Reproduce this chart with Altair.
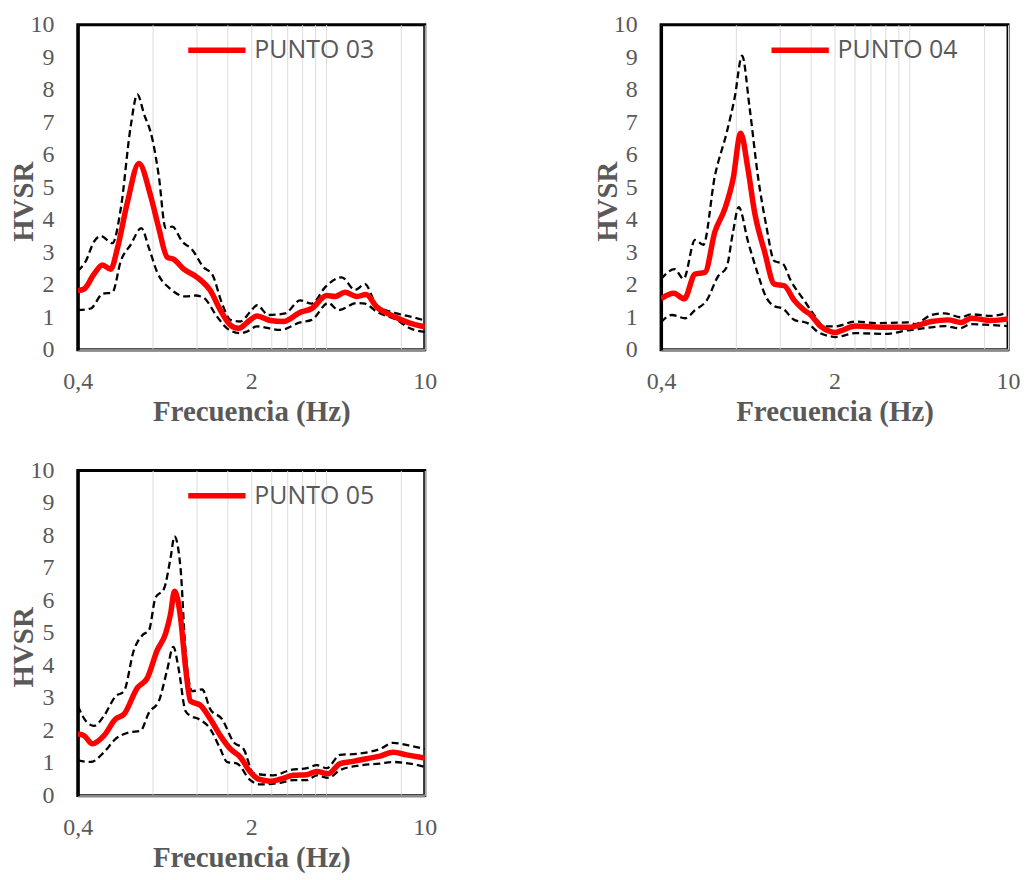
import altair as alt
import pandas as pd

# ---------------- data (frequency in Hz, HVSR amplitude) ----------------
P03_MEAN_F = [0.40, 0.424, 0.465, 0.503, 0.543, 0.578, 0.634, 0.705, 0.786, 0.848, 0.917, 0.975, 1.069, 1.21, 1.368, 1.501, 1.647, 1.778, 1.982, 2.108, 2.385, 2.697, 3.147, 3.506, 4.029, 4.349, 4.772, 5.318, 5.795, 6.397, 7.459, 8.707, 10.0]
P03_MEAN_V = [1.82, 1.87, 2.33, 2.61, 2.48, 3.13, 4.54, 5.73, 4.74, 3.74, 2.85, 2.78, 2.48, 2.23, 1.82, 1.22, 0.76, 0.66, 0.92, 1.04, 0.90, 0.87, 1.15, 1.27, 1.67, 1.64, 1.77, 1.64, 1.70, 1.32, 1.04, 0.82, 0.71]
P03_SUP_F = [0.40, 0.431, 0.465, 0.495, 0.552, 0.596, 0.653, 0.695, 0.739, 0.798, 0.848, 0.903, 0.961, 1.054, 1.156, 1.287, 1.390, 1.525, 1.647, 1.806, 1.982, 2.108, 2.348, 2.740, 3.147, 3.506, 3.965, 4.627, 5.235, 5.741, 6.397, 7.700, 8.973, 10.0]
P03_SUP_V = [2.43, 2.73, 3.33, 3.50, 3.28, 4.34, 6.86, 7.86, 7.26, 6.50, 5.35, 3.74, 3.79, 3.33, 3.08, 2.53, 2.33, 1.42, 0.92, 0.87, 1.17, 1.37, 1.07, 1.12, 1.52, 1.42, 1.92, 2.23, 1.84, 2.02, 1.37, 1.12, 1.00, 0.90]
P03_INF_F = [0.40, 0.451, 0.503, 0.552, 0.596, 0.653, 0.721, 0.774, 0.836, 0.946, 1.086, 1.191, 1.287, 1.456, 1.597, 1.806, 1.922, 2.108, 2.616, 3.147, 3.506, 4.088, 4.485, 5.318, 5.741, 6.397, 7.700, 8.707, 10.0]
P03_INF_V = [1.22, 1.27, 1.72, 1.77, 2.73, 3.23, 3.74, 3.13, 2.38, 1.87, 1.64, 1.67, 1.60, 1.02, 0.66, 0.51, 0.56, 0.72, 0.61, 0.84, 0.92, 1.44, 1.22, 1.44, 1.42, 1.17, 0.92, 0.66, 0.55]

P04_MEAN_F = [0.40, 0.450, 0.496, 0.548, 0.601, 0.659, 0.723, 0.780, 0.837, 0.896, 0.952, 1.044, 1.144, 1.255, 1.376, 1.508, 1.604, 1.758, 1.928, 2.018, 2.114, 2.426, 3.197, 3.960, 4.912, 5.723, 6.472, 7.096, 8.533, 10.0]
P04_MEAN_V = [1.57, 1.74, 1.57, 2.33, 2.38, 3.63, 4.34, 5.25, 6.66, 5.55, 4.24, 3.03, 2.02, 1.97, 1.52, 1.22, 1.07, 0.72, 0.56, 0.53, 0.58, 0.73, 0.69, 0.69, 0.87, 0.92, 0.84, 0.97, 0.90, 0.95]
P04_SUP_F = [0.40, 0.454, 0.493, 0.548, 0.592, 0.659, 0.734, 0.792, 0.848, 0.909, 0.982, 1.060, 1.144, 1.236, 1.334, 1.508, 1.654, 1.812, 2.018, 2.426, 2.916, 3.960, 4.213, 4.912, 5.552, 6.472, 7.096, 8.533, 10.0]
P04_SUP_V = [2.18, 2.48, 2.18, 3.38, 3.23, 5.35, 6.66, 7.76, 9.05, 7.46, 5.35, 3.84, 2.73, 2.65, 2.12, 1.52, 1.07, 0.72, 0.72, 0.87, 0.82, 0.84, 0.79, 1.07, 1.12, 1.00, 1.09, 1.04, 1.15]
P04_INF_F = [0.40, 0.442, 0.500, 0.548, 0.611, 0.680, 0.734, 0.780, 0.822, 0.896, 0.982, 1.060, 1.144, 1.236, 1.376, 1.556, 1.706, 1.928, 2.018, 2.426, 3.197, 3.960, 4.912, 5.552, 6.372, 7.096, 8.533, 10.0]
P04_INF_V = [0.85, 1.07, 0.97, 1.22, 1.52, 2.27, 2.53, 3.63, 4.39, 3.33, 2.33, 1.62, 1.34, 1.27, 0.92, 0.82, 0.56, 0.41, 0.39, 0.51, 0.49, 0.60, 0.69, 0.73, 0.66, 0.79, 0.76, 0.73]

P05_MEAN_F = [0.40, 0.424, 0.458, 0.510, 0.568, 0.614, 0.695, 0.762, 0.836, 0.903, 0.946, 0.981, 1.037, 1.086, 1.138, 1.248, 1.368, 1.501, 1.647, 1.806, 1.982, 2.140, 2.385, 2.616, 2.957, 3.349, 3.673, 4.088, 4.556, 5.153, 5.832, 6.595, 7.459, 8.444, 10.0]
P05_MEAN_V = [1.89, 1.84, 1.59, 1.84, 2.35, 2.50, 3.31, 3.61, 4.47, 4.98, 5.59, 6.28, 5.49, 3.97, 2.90, 2.77, 2.35, 1.84, 1.43, 1.18, 0.72, 0.50, 0.44, 0.50, 0.62, 0.64, 0.74, 0.67, 0.98, 1.05, 1.13, 1.21, 1.33, 1.25, 1.15]
P05_SUP_F = [0.40, 0.431, 0.465, 0.510, 0.568, 0.614, 0.673, 0.728, 0.774, 0.823, 0.889, 0.946, 0.981, 1.037, 1.086, 1.156, 1.268, 1.368, 1.525, 1.698, 1.862, 2.043, 2.459, 2.868, 3.349, 3.673, 4.029, 4.556, 5.318, 6.595, 7.459, 8.707, 10.0]
P05_SUP_V = [2.75, 2.29, 2.14, 2.45, 3.05, 3.21, 4.47, 4.93, 5.08, 6.09, 6.35, 7.31, 7.97, 7.01, 4.47, 3.21, 3.26, 2.65, 2.35, 1.64, 1.43, 0.68, 0.62, 0.78, 0.84, 0.93, 0.84, 1.25, 1.28, 1.43, 1.62, 1.53, 1.43]
P05_INF_F = [0.40, 0.451, 0.510, 0.568, 0.643, 0.716, 0.774, 0.848, 0.917, 0.970, 1.021, 1.086, 1.138, 1.228, 1.368, 1.501, 1.597, 1.752, 1.982, 2.173, 2.616, 2.957, 3.349, 3.673, 4.088, 4.556, 5.318, 6.595, 7.459, 8.707, 10.0]
P05_INF_V = [1.08, 1.03, 1.33, 1.74, 1.94, 1.99, 2.55, 2.90, 3.87, 4.57, 3.87, 2.60, 2.45, 2.35, 2.04, 1.43, 1.03, 0.98, 0.47, 0.34, 0.39, 0.47, 0.47, 0.62, 0.54, 0.78, 0.91, 0.98, 1.03, 0.98, 0.88]

GRID_VALUES = [0.4, 0.8, 1.2, 1.6, 2, 2.4, 2.8, 3.2, 3.6, 4, 8, 10]
Y_TICKS = [0, 1, 2, 3, 4, 5, 6, 7, 8, 9, 10]

SERIF = "Liberation Serif"
GREY = "#595959"
W, H = 348, 326


def panel(name, mf, mv, sf, sv, lf, lv):
    df_mean = pd.DataFrame({"f": mf, "v": mv, "s": name})
    df_band = pd.concat([
        pd.DataFrame({"f": sf, "v": sv, "b": "sup"}),
        pd.DataFrame({"f": lf, "v": lv, "b": "inf"}),
    ])
    x = alt.X("f:Q",
              scale=alt.Scale(type="log", domain=[0.4, 10], nice=False),
              axis=alt.Axis(values=GRID_VALUES, title="Frecuencia (Hz)",
                            labelExpr="datum.value == 0.4 ? '0,4' : datum.value == 2 ? '2' : datum.value == 10 ? '10' : ''",
                            labelFlush=False, labelOverlap=False, labelBound=False,
                            labelFont=SERIF, labelFontSize=24, labelColor=GREY,
                            labelPadding=20, ticks=False,
                            grid=True, gridColor="#dcdcdc", gridWidth=1,
                            domainColor="#8a8a8a", domainWidth=3,
                            titleFont=SERIF, titleFontSize=29, titleFontWeight="bold",
                            titleColor=GREY, titleY=71, titleBaseline="alphabetic"))
    y = alt.Y("v:Q",
              scale=alt.Scale(domain=[0, 10], nice=False),
              axis=alt.Axis(values=Y_TICKS, title="HVSR", grid=False, ticks=False,
                            labelFont=SERIF, labelFontSize=24, labelColor=GREY,
                            labelPadding=24, domainColor="black", domainWidth=3,
                            titleFont=SERIF, titleFontSize=29, titleFontWeight="bold",
                            titleColor=GREY, titleX=-45, titleY=177,
                            titleBaseline="alphabetic", titleAngle=270))
    dashed = alt.Chart(df_band).mark_line(
        color="black", strokeWidth=2.3, strokeDash=[7, 4], interpolate="monotone", clip=True
    ).encode(x=x, y=y, detail="b:N")
    mean = alt.Chart(df_mean).mark_line(
        strokeWidth=5.5, interpolate="monotone", clip=True
    ).encode(
        x=x, y=y,
        color=alt.Color("s:N", scale=alt.Scale(domain=[name], range=["#ff0000"]),
                        legend=alt.Legend(orient="none", legendX=108, legendY=-6,
                                          title=None, symbolType="stroke",
                                          symbolStrokeWidth=5.5, symbolSize=3300,
                                          labelFont="Open Sans", labelFontSize=25,
                                          labelColor=GREY, labelOffset=6, padding=0))
    )
    return alt.layer(dashed, mean).properties(width=W, height=H)


p3 = panel("PUNTO 03", P03_MEAN_F, P03_MEAN_V, P03_SUP_F, P03_SUP_V, P03_INF_F, P03_INF_V)
p4 = panel("PUNTO 04", P04_MEAN_F, P04_MEAN_V, P04_SUP_F, P04_SUP_V, P04_INF_F, P04_INF_V)
p5 = panel("PUNTO 05", P05_MEAN_F, P05_MEAN_V, P05_SUP_F, P05_SUP_V, P05_INF_F, P05_INF_V)

chart = alt.concat(p3, p4, p5, columns=2, spacing={"row": 121, "column": 237}, bounds="flush") \
    .resolve_scale(color="independent") \
    .resolve_legend(color="independent") \
    .properties(padding={"left": 0, "top": 1.5, "right": 0, "bottom": 0}, background="white") \
    .configure_view(stroke="black", strokeWidth=3)

chart.save("out.html", embed_options={"renderer": "svg", "actions": False})
